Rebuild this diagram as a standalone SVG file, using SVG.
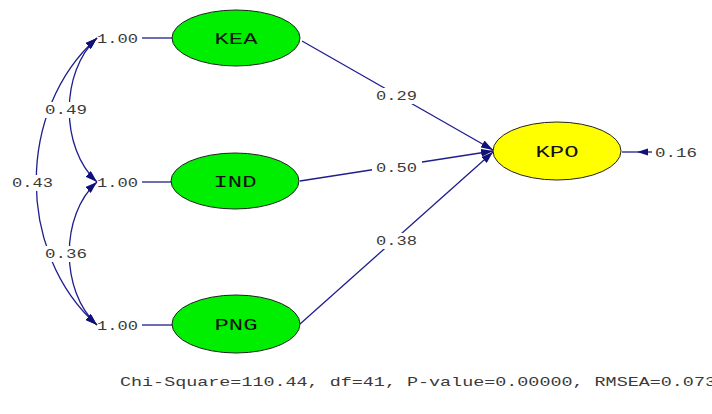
<svg xmlns="http://www.w3.org/2000/svg" width="712" height="414" viewBox="0 0 712 414">
<style>
.ln{stroke:#1e1e8c;stroke-width:1.3;fill:none}
.lab{font-family:"Liberation Mono","DejaVu Sans Mono",monospace;font-size:13px;fill:#3a3a3a}
.nt{font-family:"Liberation Mono","DejaVu Sans Mono",monospace;font-size:16px;fill:#111;text-anchor:middle}
.g{fill:#00ee00;stroke:#222;stroke-width:1}
.y{fill:#ffff00;stroke:#222;stroke-width:1}
.bg{fill:#fff}
</style>
<defs>
<marker id="ah" viewBox="0 0 12 8" refX="12" refY="4" markerWidth="12" markerHeight="8" markerUnits="userSpaceOnUse" orient="auto-start-reverse">
<path d="M0,0 L12,4 L0,8 Z" fill="#10107a"/>
</marker>
</defs>
<rect width="712" height="414" fill="#fff"/>
<g id="connectors">
<line class="ln" x1="142" y1="38" x2="173" y2="38"/>
<line class="ln" x1="142" y1="182" x2="173" y2="182"/>
<line class="ln" x1="142" y1="325" x2="173" y2="325"/>
<path class="ln" d="M97,38 C60,72 60,148 97,182" marker-start="url(#ah)" marker-end="url(#ah)"/>
<path class="ln" d="M97,38 C16,110 16,253 97,325" marker-start="url(#ah)" marker-end="url(#ah)"/>
<path class="ln" d="M97,182 C60,215 60,291 97,325" marker-start="url(#ah)" marker-end="url(#ah)"/>
<line class="ln" x1="302" y1="41" x2="493" y2="150" marker-end="url(#ah)"/>
<line class="ln" x1="300" y1="181" x2="493" y2="151" marker-end="url(#ah)"/>
<line class="ln" x1="300" y1="324" x2="493" y2="152" marker-end="url(#ah)"/>
<line class="ln" x1="652" y1="152" x2="622" y2="152"/>
<path d="M637,152 L648,148.5 L648,155.5 Z" fill="#10107a"/>
<rect class="bg" x="43" y="102" width="46" height="16"/>
<rect class="bg" x="10" y="175" width="46" height="16"/>
<rect class="bg" x="43" y="246" width="46" height="16"/>
<rect class="bg" x="372" y="88" width="50" height="16"/>
<rect class="bg" x="372" y="160" width="50" height="16"/>
<rect class="bg" x="372" y="233" width="50" height="16"/>
<text class="lab" x="97" y="43" textLength="41" lengthAdjust="spacingAndGlyphs">1.00</text>
<text class="lab" x="97" y="187" textLength="41" lengthAdjust="spacingAndGlyphs">1.00</text>
<text class="lab" x="97" y="330" textLength="41" lengthAdjust="spacingAndGlyphs">1.00</text>
<text class="lab" x="45" y="114" textLength="42" lengthAdjust="spacingAndGlyphs">0.49</text>
<text class="lab" x="12" y="187" textLength="41" lengthAdjust="spacingAndGlyphs">0.43</text>
<text class="lab" x="45" y="258" textLength="42" lengthAdjust="spacingAndGlyphs">0.36</text>
<text class="lab" x="376" y="100" textLength="41" lengthAdjust="spacingAndGlyphs">0.29</text>
<text class="lab" x="376" y="172" textLength="41" lengthAdjust="spacingAndGlyphs">0.50</text>
<text class="lab" x="376" y="245" textLength="41" lengthAdjust="spacingAndGlyphs">0.38</text>
<text class="lab" x="655" y="157" textLength="42" lengthAdjust="spacingAndGlyphs">0.16</text>
</g>
<g id="KEA">
<ellipse class="g" cx="236" cy="38" rx="64" ry="28"/>
<text class="nt" x="236" y="44" textLength="43" lengthAdjust="spacingAndGlyphs">KEA</text>
</g>
<g id="IND">
<ellipse class="g" cx="235" cy="181" rx="64" ry="28"/>
<text class="nt" x="235" y="187" textLength="43" lengthAdjust="spacingAndGlyphs">IND</text>
</g>
<g id="PNG">
<ellipse class="g" cx="236" cy="324" rx="64" ry="29"/>
<text class="nt" x="236" y="330" textLength="43" lengthAdjust="spacingAndGlyphs">PNG</text>
</g>
<g id="KPO">
<ellipse class="y" cx="557" cy="151" rx="64" ry="29"/>
<text class="nt" x="557" y="157" textLength="43" lengthAdjust="spacingAndGlyphs">KPO</text>
</g>
<text class="lab" x="120" y="386" textLength="596" lengthAdjust="spacingAndGlyphs" fill="#222">Chi-Square=110.44, df=41, P-value=0.00000, RMSEA=0.073</text>
</svg>
